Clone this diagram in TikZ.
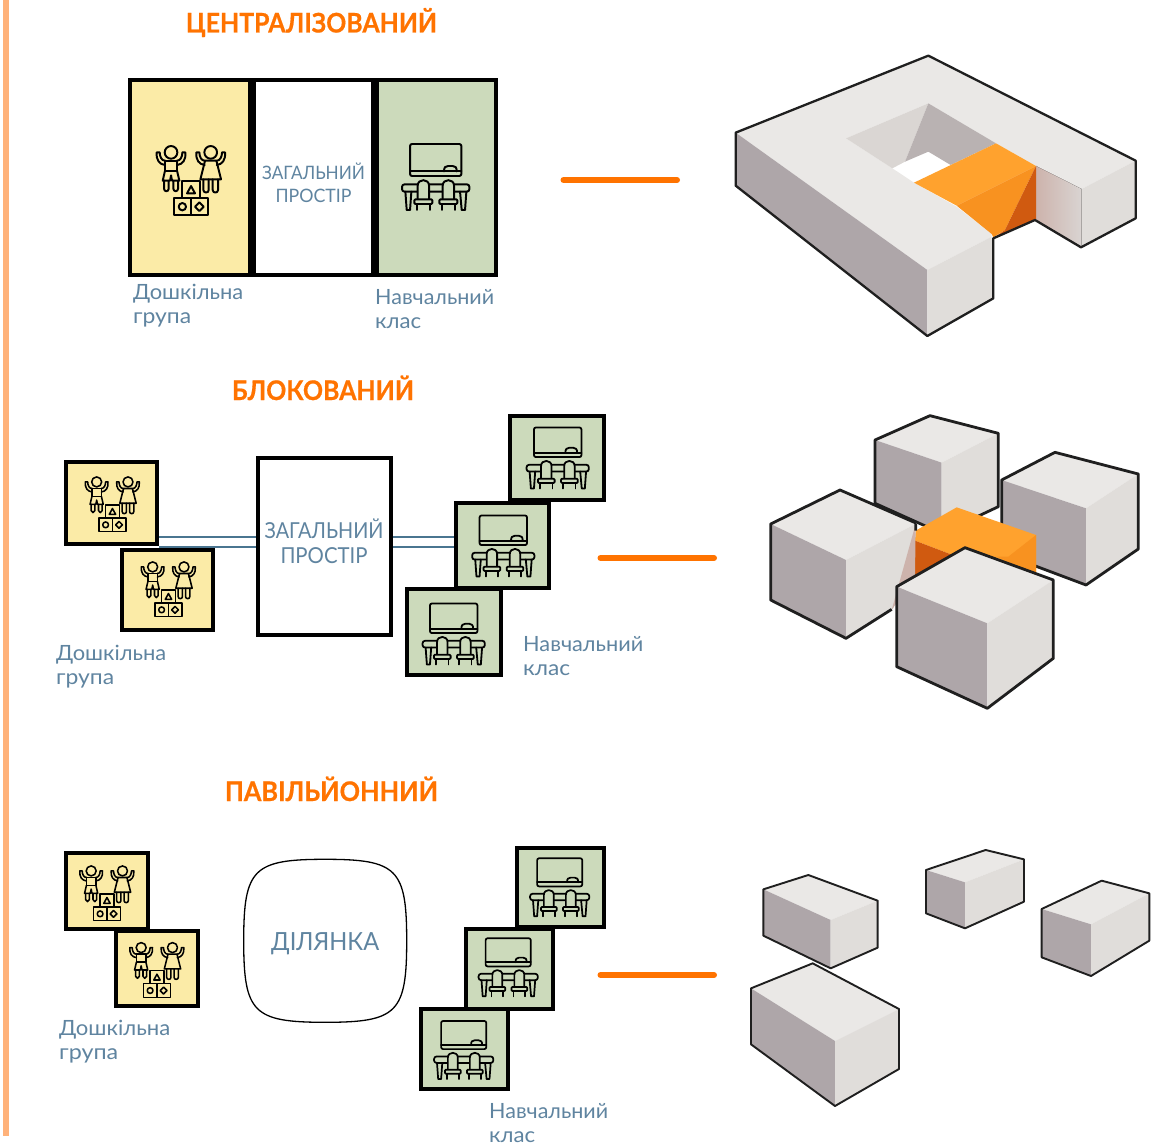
\documentclass[tikz,border=0pt]{standalone}
\usepackage{fontspec}
\usepackage{graphicx}
\setmainfont{Lato}
\newfontfamily\titlefont[FakeBold=0.6]{Lato}
\definecolor{roomyellow}{HTML}{FBEBA7}
\definecolor{roomgreen}{HTML}{CCDABB}
\definecolor{labelblue}{HTML}{5F84A0}
\definecolor{linkblue}{HTML}{4A7590}
\definecolor{titleorange}{HTML}{FF7300}
\definecolor{stripeorange}{HTML}{FFB27A}
\definecolor{facetop}{HTML}{EAE8E6}
\definecolor{faceright}{HTML}{E0DDDA}
\definecolor{faceleft}{HTML}{AEA6A9}
\definecolor{wallleft}{HTML}{DAD6D3}
\definecolor{wallright}{HTML}{B9B2B2}
\definecolor{warmwall}{HTML}{CDB3AC}
\definecolor{warmwallb}{HTML}{D9D4D2}
\definecolor{orangetop}{HTML}{FFA22E}
\definecolor{orangemid}{HTML}{F89220}
\definecolor{orangedark}{HTML}{D05A10}
\tikzset{
  room/.style={draw=black,inner sep=0pt,line width=4pt},
  yroom/.style={room,fill=roomyellow},
  groom/.style={room,fill=roomgreen},
  wroom/.style={room,fill=white},
  bigroom/.style={line width=4.2pt},
  roomtext/.style={inner sep=0pt,text=labelblue,align=center},
  titletext/.style={anchor=base,text=titleorange,inner sep=0pt,font=\titlefont\bfseries\fontsize{27}{30}\selectfont},
  labeltext/.style={anchor=west,inner sep=0pt,align=left,text=labelblue,font=\fontsize{21}{24}\selectfont},
  link/.style={draw=linkblue,line width=1.9pt},
  massline/.style={draw=titleorange,line width=6pt,line cap=round},
  massedge/.style={draw=black!88,line join=round},
}
\newcommand\tw[2]{\resizebox{#1pt}{\height}{#2}}
% kids icon drawn in a 3x coordinate grid, centred on (212,332)
\newcommand\kidarms{%
  \draw (-18,285) .. controls (-35,283) and (-45,270) .. (-43,247) -- (-34,247) .. controls (-34,260) and (-28,272) .. (-18,272);
  \draw (18,285) .. controls (35,283) and (45,270) .. (43,247) -- (34,247) .. controls (34,260) and (28,272) .. (18,272);
}
\newcommand\kidsicon[3]{%
\begin{scope}[shift={(#1,#2)},scale=#3/3,line width=#3*1.95pt,shift={(-212,-332)},line cap=round,line join=round]
  \begin{scope}[shift={(153,0)}]
    \draw (0,247) circle (19);
    \kidarms
    \draw (-18,272) -- (18,272) (-18,272) -- (-18,302) -- (18,302) -- (18,272);
    \draw (-18,302) -- (-25,332) -- (-3,332) -- (0,316) -- (3,332) -- (25,332) -- (18,302);
    \draw (-21,332) -- (-21,356) .. controls (-21,366) and (-7,366) .. (-7,356) -- (-7,332);
    \draw (7,332) -- (7,356) .. controls (7,366) and (21,366) .. (21,356) -- (21,332);
  \end{scope}
  \begin{scope}[shift={(272,0)}]
    \draw (0,247) circle (19);
    \kidarms
    \draw (-17,272) -- (17,272) -- (31,328) -- (-31,328) -- cycle;
    \draw (-22,328) -- (-22,360) .. controls (-22,370) and (-6,370) .. (-6,360) -- (-6,328);
    \draw (6,328) -- (6,360) .. controls (6,370) and (22,370) .. (22,360) -- (22,328);
  \end{scope}
  \draw (187,334) rectangle (239,384) (161,384) rectangle (213,436) (213,384) rectangle (265,436);
  \draw (213,348) -- (225,370) -- (201,370) -- cycle;
  \draw (187,410) circle (11);
  \draw (238,397) -- (251,410) -- (238,423) -- (225,410) -- cycle;
\end{scope}}
% classroom icon in the same grid, centred on (947,321)
\newcommand\chairshape{%
  \draw[fill=roomgreen] (893,388) -- (893,347) .. controls (893,325) and (927,325) .. (927,347) -- (927,388);
  \draw[fill=roomgreen,rounded corners=1pt] (883,388) rectangle (937,402);
  \draw (890,402) -- (890,420) (930,402) -- (930,420);
}
\newcommand\classicon[3]{%
\begin{scope}[shift={(#1,#2)},scale=#3/3,line width=#3*1.95pt,shift={(-947,-321)},line cap=round,line join=round]
  \draw[rounded corners=2pt] (870,222) rectangle (1024,318);
  \draw (870,304) -- (1024,304);
  \draw (972,304) .. controls (972,292) and (976,288) .. (984,288) -- (998,288) .. controls (1006,288) and (1010,292) .. (1010,304);
  \draw[rounded corners=2.5pt] (846,343) rectangle (1048,365);
  \draw (856,365) -- (860,420) -- (870,420) -- (874,365);
  \draw (1020,365) -- (1025,420) -- (1035,420) -- (1039,365);
  \chairshape
  \begin{scope}[shift={(75,0)}]\chairshape\end{scope}
\end{scope}}
% solid with three visible faces
\newcommand\isobox[7]{%
  \fill[facetop] #1 -- #2 -- #3 -- #4 -- cycle;
  \fill[faceleft] #1 -- #4 -- #6 -- #5 -- cycle;
  \fill[faceright] #4 -- #3 -- #7 -- #6 -- cycle;
  \draw[massedge] #1 -- #2 -- #3 -- #7 -- #6 -- #5 -- cycle;
}
\begin{document}
\begin{tikzpicture}[x=1pt,y=-1pt]
\useasboundingbox (0,0) rectangle (1168,1145);
\fill[white] (0,0) rectangle (1168,1145);
\fill[stripeorange] (3.3,0) rectangle (9.3,1136);

% --- centralised ---
\node[titletext] (t1) at (311.5,32.5) {\tw{251}{ЦЕНТРАЛІЗОВАНИЙ}};
\node[yroom,bigroom,minimum width=119.5pt,minimum height=194.7pt] (c1) at (190,177.6) {};
\node[wroom,bigroom,minimum width=119.2pt,minimum height=194.7pt] (c2) at (313.2,177.6) {};
\node[groom,bigroom,minimum width=119.1pt,minimum height=194.7pt] (c3) at (436.45,177.6) {};
\node[roomtext,font=\fontsize{18.5}{23}\selectfont] (c2t) at (313.5,182.6) {\tw{103}{ЗАГАЛЬНИЙ}\\\tw{76}{ПРОСТІР}};
\kidsicon{190.7}{180.7}{1}
\classicon{435.7}{177}{1}
\node[labeltext] (l1) at (133,305.4) {\tw{110}{Дошкільна}\\\tw{58}{група}};
\node[labeltext] (l2) at (375,309) {\tw{119}{Навчальний}\\\tw{46}{клас}};
\coordinate (m1a) at (563.5,180);
\coordinate (m1b) at (677,180);
\draw[massline] (m1a) -- (m1b);

\begin{scope}[shift={(720,40)},scale=1/3,line width=2.3pt]
  \fill[facetop] (47,278) -- (625,47) -- (1247,362) -- (1085,447) -- (948,378) -- (828,310) -- (625,190) -- (378,295) -- (517,385) -- (582,428) -- (710,500) -- (815,582) -- (815,590) -- (622,690) -- cycle;
  \fill[faceleft] (47,278) -- (622,690) -- (622,888) -- (47,437) -- cycle;
  \fill[faceright] (622,690) -- (815,590) -- (820,775) -- (622,888) -- cycle;
  \fill[faceright] (1085,447) -- (1247,362) -- (1247,535) -- (1083,622) -- cycle;
  \fill[wallleft] (378,295) -- (625,190) -- (555,365) -- (517,385) -- cycle;
  \fill[wallright] (625,190) -- (828,310) -- (692,375) -- (625,335) -- (555,365) -- cycle;
  \fill[left color=warmwall,right color=warmwallb] (948,378) -- (1085,447) -- (1085,620) -- (948,540) -- cycle;
  \fill[orangetop] (582,428) -- (828,310) -- (948,378) -- (710,497) -- cycle;
  \fill[orangemid] (710,497) -- (948,378) -- (855,570) -- (820,592) -- (815,582) -- cycle;
  \fill[orangedark] (948,378) -- (948,537) -- (820,594) -- (855,570) -- cycle;
  \draw[massedge] (47,278) -- (625,47) -- (1247,362) -- (1247,535) -- (1083,622) -- (945,540) -- (820,595) -- (820,775) -- (622,888) -- (47,437) -- cycle;
\end{scope}

% --- blocked ---
\node[titletext] (t2) at (323,400) {\tw{182}{БЛОКОВАНИЙ}};
\node[wroom,bigroom,minimum width=133pt,minimum height=177pt] (b0) at (324.5,546.5) {};
\node[roomtext,font=\fontsize{22}{25}\selectfont] (b0t) at (324,541.5) {\tw{119}{ЗАГАЛЬНИЙ}\\\tw{87}{ПРОСТІР}};
\node[yroom,minimum width=91pt,minimum height=80pt] (b2) at (167.5,590) {};
\node[yroom,minimum width=91pt,minimum height=82pt] (b1) at (111.5,503) {};
\node[groom,minimum width=94pt,minimum height=84pt] (b3) at (557,458) {};
\node[groom,minimum width=93pt,minimum height=85pt] (b4) at (502.5,545.5) {};
\node[groom,minimum width=94pt,minimum height=86pt] (b5) at (454,632) {};
\draw[link] (b1.east |- 0,537) -- (b0.west |- 0,537);
\draw[link] (b1.east |- 0,547) -- (b0.west |- 0,547);
\draw[link] (b0.east |- 0,537) -- (b4.west |- 0,537);
\draw[link] (b0.east |- 0,547) -- (b4.west |- 0,547);
\kidsicon{112.2}{504.3}{0.79}
\kidsicon{168.2}{589.3}{0.79}
\classicon{557.7}{458}{0.925}
\classicon{503.3}{546}{0.925}
\classicon{453.7}{634}{0.925}
\node[labeltext] (l3) at (56,666.4) {\tw{110}{Дошкільна}\\\tw{58}{група}};
\node[labeltext] (l4) at (523,656.4) {\tw{120}{Навчальний}\\\tw{47}{клас}};
\coordinate (m2a) at (600.5,558);
\coordinate (m2b) at (714,558);
\draw[massline] (m2a) -- (m2b);

\begin{scope}[shift={(750,400)},scale=1/3,line width=2.8pt]
  \isobox{(375,120)}{(540,47)}{(745,100)}{(575,188)}{(375,310)}{(575,400)}{(745,320)}
  \isobox{(755,240)}{(915,157)}{(1165,222)}{(1008,325)}{(755,460)}{(1008,555)}{(1165,447)}
  \fill[orangetop] (497,392) -- (620,322) -- (858,405) -- (858,520) -- (640,470) -- (600,462) -- (495,422) -- cycle;
  \fill[orangemid] (858,405) -- (858,520) -- (740,470) -- (775,470) -- cycle;
  \fill[orangedark] (495,422) -- (600,462) -- (640,480) -- (495,530) -- cycle;
  \fill[facetop] (62,372) -- (270,270) -- (500,370) -- (288,480) -- cycle;
  \fill[faceleft] (62,372) -- (288,480) -- (288,715) -- (62,600) -- cycle;
  \fill[faceright] (288,480) -- (500,370) -- (430,625) -- (288,715) -- cycle;
  \fill[warmwall] (497,372) -- (495,530) -- (425,630) -- cycle;
  \draw[massedge] (425,628) -- (288,715) -- (62,600) -- (62,372) -- (270,270) -- (500,370) (497,372) -- (497,392);
  \isobox{(440,560)}{(645,443)}{(910,540)}{(712,670)}{(440,800)}{(712,925)}{(910,775)}
\end{scope}

% --- pavilion ---
\node[titletext] (t3) at (331.5,801) {\tw{213}{ПАВІЛЬЙОННИЙ}};
\node[inner sep=0pt,minimum width=163pt,minimum height=163pt,text=labelblue,font=\fontsize{25}{28}\selectfont] (p0) at (325.2,943.5) {\tw{108}{ДІЛЯНКА}};
\draw[line width=1.3pt,shift={(325.2,940.8)}] (0,-81.5) .. controls (72,-81.5) and (81.5,-72) .. (81.5,0) .. controls (81.5,72) and (72,81.5) .. (0,81.5) .. controls (-72,81.5) and (-81.5,72) .. (-81.5,0) .. controls (-81.5,-72) and (-72,-81.5) .. (0,-81.5) -- cycle;
\node[yroom,minimum width=82pt,minimum height=76pt] (p1) at (107,891) {};
\node[yroom,minimum width=82pt,minimum height=75pt] (p2) at (157,968.5) {};
\node[groom,minimum width=87pt,minimum height=79pt] (p3) at (560.5,887.5) {};
\node[groom,minimum width=87pt,minimum height=80pt] (p4) at (509.5,969) {};
\node[groom,minimum width=87pt,minimum height=80pt] (p5) at (464.5,1049) {};
\kidsicon{106.7}{893.3}{0.79}
\kidsicon{156.7}{970}{0.79}
\classicon{559.7}{887.3}{0.88}
\classicon{508.2}{967.3}{0.88}
\classicon{463.7}{1050}{0.88}
\node[labeltext] (l5) at (59,1041.4) {\tw{111}{Дошкільна}\\\tw{59}{група}};
\node[labeltext] (l6) at (489,1123.4) {\tw{119}{Навчальний}\\\tw{46}{клас}};
\coordinate (m3a) at (600.5,975);
\coordinate (m3b) at (714,975);
\draw[massline] (m3a) -- (m3b);

\begin{scope}[shift={(740,840)},scale=1/3,line width=1.9pt]
  \isobox{(70,148)}{(205,105)}{(413,182)}{(272,240)}{(70,287)}{(272,385)}{(413,323)}
  \isobox{(558,90)}{(737,30)}{(852,58)}{(675,127)}{(558,220)}{(675,265)}{(852,185)}
  \isobox{(905,207)}{(1085,122)}{(1228,160)}{(1053,253)}{(905,352)}{(1053,408)}{(1228,302)}
  \isobox{(33,445)}{(218,370)}{(477,507)}{(285,603)}{(33,613)}{(285,798)}{(477,687)}
\end{scope}
\end{tikzpicture}
\end{document}
